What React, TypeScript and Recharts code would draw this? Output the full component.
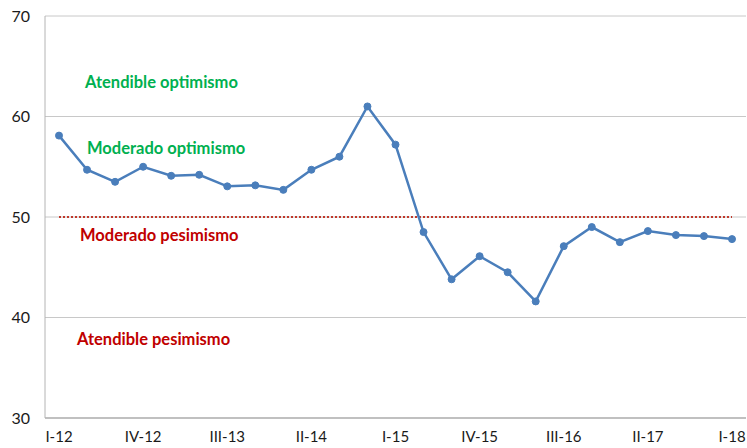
import React from "react";
import { LineChart, Line, XAxis, YAxis, CartesianGrid, ReferenceLine } from "recharts";

const quarters = [
  "I-12", "II-12", "III-12", "IV-12",
  "I-13", "II-13", "III-13", "IV-13",
  "I-14", "II-14", "III-14", "IV-14",
  "I-15", "II-15", "III-15", "IV-15",
  "I-16", "II-16", "III-16", "IV-16",
  "I-17", "II-17", "III-17", "IV-17",
  "I-18",
];

const indexValues = [
  58.1, 54.7, 53.5, 55.0,
  54.1, 54.2, 53.05, 53.15,
  52.7, 54.7, 56.0, 61.0,
  57.2, 48.5, 43.8, 46.1,
  44.5, 41.6, 47.1, 49.0,
  47.5, 48.6, 48.2, 48.1,
  47.8,
];

const yTicks = [30, 40, 50, 60, 70];
const threshold = 50;

const zones = [
  { text: "Atendible optimismo", y: 63.4, color: "#00B050", dx: 35 },
  { text: "Moderado optimismo", y: 56.9, color: "#00B050", dx: 37 },
  { text: "Moderado pesimismo", y: 48.2, color: "#C00000", dx: 30 },
  { text: "Atendible pesimismo", y: 37.8, color: "#C00000", dx: 27 },
];

const data = quarters.map((q, i) => ({ q, v: indexValues[i] }));

const font = "Lato, 'Open Sans', sans-serif";

export default function App() {
  return (
    <div style={{ position: "absolute", left: 0, top: 0, width: 747, height: 448, background: "#fff", fontFamily: font }}>
      <LineChart width={747} height={448} data={data} margin={{ top: 16, right: 1, bottom: 0, left: 0 }}>
        <CartesianGrid vertical={false} stroke="#C8C8C8" strokeWidth={1} />
        <XAxis
          dataKey="q"
          interval={2}
          padding={{ left: 14, right: 14 }}
          tickLine={false}
          tickSize={0}
          tickMargin={13}
          height={30}
          stroke="#B4B4B4"
          strokeWidth={1.5}
          tick={{ fontSize: 15, fill: "#1a1a1a", fontFamily: font }}
        />
        <YAxis
          domain={[30, 70]}
          ticks={yTicks}
          width={45}
          tickLine={false}
          tickSize={0}
          tickMargin={15}
          stroke="#B4B4B4"
          tick={{ fontSize: 16, fill: "#1a1a1a", fontFamily: font }}
        />
        {zones.map((z) => (
          <ReferenceLine
            key={z.text}
            y={z.y}
            stroke="none"
            label={{
              value: z.text,
              position: "insideLeft",
              dx: z.dx,
              fill: z.color,
              fontSize: 16.5,
              fontWeight: 700,
              fontFamily: font,
            }}
          />
        ))}
        <ReferenceLine
          segment={[
            { x: quarters[0], y: threshold },
            { x: quarters[quarters.length - 1], y: threshold },
          ]}
          stroke="#C0392B"
          strokeWidth={2}
          strokeDasharray="2 2"
        />
        <Line
          dataKey="v"
          type="linear"
          stroke="#4A7EBB"
          strokeWidth={2.5}
          dot={{ r: 3.5, fill: "#4A7EBB", stroke: "#4A7EBB", strokeWidth: 1 }}
          isAnimationActive={false}
        />
      </LineChart>
    </div>
  );
}
